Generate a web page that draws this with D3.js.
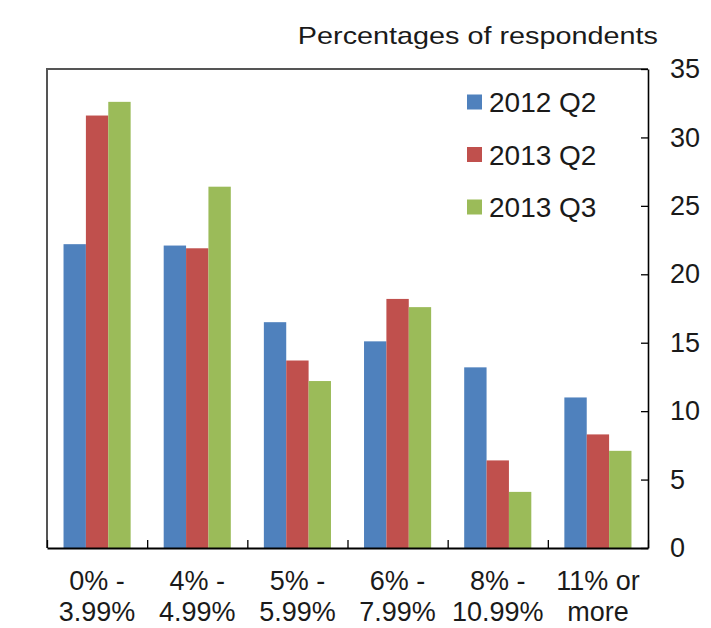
<!DOCTYPE html>
<html>
<head>
<meta charset="utf-8">
<script src="https://cdn.jsdelivr.net/npm/d3@7"></script>
<style>
  body { margin: 0; background: #fff; }
  svg text { font-family: "Liberation Sans", Arial, sans-serif; fill: #1a1a1a; }
</style>
</head>
<body>
<svg id="chart" width="711" height="628"></svg>
<script>
// categories (two label lines each)
const categories = ["0-4", "4-5", "5-6", "6-8", "8-11", "11+"];
const labelTop = ["0% -", "4% -", "5% -", "6% -", "8% -", "11% or"];
const labelBottom = ["3.99%", "4.99%", "5.99%", "7.99%", "10.99%", "more"];

const seriesNames = ["2012 Q2", "2013 Q2", "2013 Q3"];
const s2012Q2 = [22.2, 22.1, 16.5, 15.1, 13.2, 11.0];
const s2013Q2 = [31.6, 21.9, 13.7, 18.2, 6.4, 8.3];
const s2013Q3 = [32.6, 26.4, 12.2, 17.6, 4.1, 7.1];
const colors = ["#4f81bd", "#c0504d", "#9bbb59"];

const yTicks = [0, 5, 10, 15, 20, 25, 30, 35];

const margin = { top: 69, right: 63, bottom: 80, left: 47 };
const width = 711, height = 628;
const innerBottom = height - margin.bottom; // 548
const innerRight = width - margin.right;    // 648

const svg = d3.select("#chart");

const x = d3.scaleBand()
  .domain(categories)
  .range([margin.left, innerRight])
  .paddingInner(0.33)
  .paddingOuter(0.165);

const xSub = d3.scaleBand()
  .domain(seriesNames)
  .range([0, x.bandwidth()]);

const xEdge = d3.scaleLinear()
  .domain([0, categories.length])
  .range([margin.left, innerRight]);

const y = d3.scaleLinear()
  .domain([0, 35])
  .range([innerBottom, margin.top]);

const rows = categories.map((c, i) => ({
  cat: c,
  values: [s2012Q2[i], s2013Q2[i], s2013Q3[i]]
}));

// bars
svg.append("g")
  .selectAll("g")
  .data(rows)
  .join("g")
  .attr("transform", d => `translate(${x(d.cat)},0)`)
  .selectAll("rect")
  .data(d => d.values.map((v, k) => ({ key: seriesNames[k], v, k })))
  .join("rect")
  .attr("x", d => xSub(d.key))
  .attr("width", xSub.bandwidth())
  .attr("y", d => y(d.v))
  .attr("height", d => y(0) - y(d.v))
  .attr("fill", d => colors[d.k]);

// frame: top and left (grey)
svg.append("path")
  .attr("d", `M${margin.left},${innerBottom}V${margin.top}H${innerRight}`)
  .attr("fill", "none")
  .attr("stroke", "#555")
  .attr("stroke-width", 2);

// right y axis, ticks pointing inward
const yAxis = svg.append("g")
  .attr("transform", `translate(${innerRight},0)`)
  .call(d3.axisRight(y).tickValues(yTicks).tickSize(-7).tickPadding(22).tickSizeOuter(0));
yAxis.select(".domain").attr("stroke", "#000").attr("stroke-width", 1.6);
yAxis.selectAll(".tick line").attr("stroke", "#000").attr("stroke-width", 1.3);
yAxis.selectAll(".tick text")
  .style("font-family", "'Liberation Sans', Arial, sans-serif")
  .style("font-size", "27px")
  .attr("fill", "#1a1a1a");

// bottom axis with ticks between categories
const xAxis = svg.append("g")
  .attr("transform", `translate(0,${innerBottom})`)
  .call(d3.axisBottom(xEdge).tickValues(d3.range(categories.length + 1)).tickSize(-8).tickFormat("").tickSizeOuter(0));
xAxis.select(".domain").attr("stroke", "#000").attr("stroke-width", 2.2);
xAxis.selectAll(".tick line").attr("stroke", "#000").attr("stroke-width", 1.3);

// category labels
const lab = svg.append("g")
  .selectAll("text")
  .data(categories)
  .join("text")
  .attr("text-anchor", "middle")
  .style("font-size", "27px")
  .attr("transform", d => `translate(${x(d) + x.bandwidth() / 2},0)`);
lab.append("tspan").attr("x", 0).attr("y", 590).text((d, i) => labelTop[i]);
lab.append("tspan").attr("x", 0).attr("y", 621).text((d, i) => labelBottom[i]);

// title
svg.append("text")
  .attr("transform", "translate(658,44) scale(1.2,1)")
  .attr("text-anchor", "end")
  .style("font-size", "24px")
  .text("Percentages of respondents");

// legend
const legend = svg.append("g")
  .selectAll("g")
  .data(seriesNames)
  .join("g")
  .attr("transform", (d, i) => `translate(467,${102 + i * 52.5})`);
legend.append("rect")
  .attr("x", 0).attr("y", -7.5)
  .attr("width", 15).attr("height", 15)
  .attr("fill", (d, i) => colors[i]);
legend.append("text")
  .attr("x", 22).attr("y", 10)
  .style("font-size", "28px")
  .text(d => d);
</script>
</body>
</html>
